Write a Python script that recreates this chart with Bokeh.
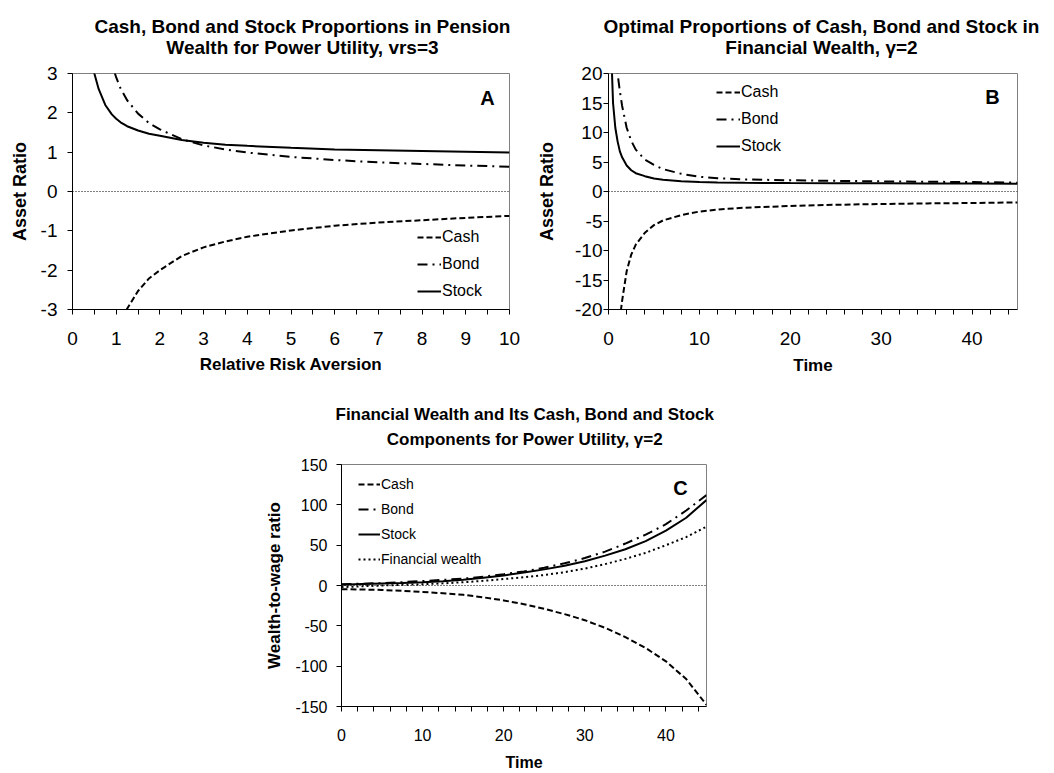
from bokeh.plotting import figure
from bokeh.layouts import column, row
from bokeh.models import Range1d, Legend, LegendItem, Label, Span, FixedTicker, Spacer
from bokeh.embed import file_html
from bokeh.resources import INLINE

FONT = "Liberation Sans"

# ---------------- Panel A data ----------------
gamma = [0.4, 0.5, 0.6, 0.75, 0.9, 1.0, 1.1, 1.25, 1.5, 1.75, 2.0, 2.5, 3.0, 3.5, 4.0,
         5.0, 6.0, 7.0, 8.0, 9.0, 10.0]
a_cash = [-10.7, -8.2, -6.6, -5.1, -4.2, -3.75, -3.38, -2.98, -2.53, -2.21, -2.0, -1.64,
          -1.42, -1.27, -1.15, -0.99, -0.87, -0.79, -0.73, -0.67, -0.62]
a_bond = [8.0, 6.2, 5.0, 3.9, 3.25, 2.9, 2.62, 2.32, 1.98, 1.74, 1.58, 1.33, 1.17, 1.07,
          0.99, 0.88, 0.80, 0.74, 0.70, 0.66, 0.63]
a_stock = [3.7, 3.0, 2.6, 2.2, 1.96, 1.85, 1.76, 1.66, 1.55, 1.47, 1.42, 1.31, 1.24, 1.19,
           1.16, 1.11, 1.07, 1.05, 1.03, 1.01, 0.99]
a_xticks = [0, 1, 2, 3, 4, 5, 6, 7, 8, 9, 10]
a_xminor = [0.5, 1.5, 2.5, 3.5, 4.5, 5.5, 6.5, 7.5, 8.5, 9.5]
a_yticks = [-3, -2, -1, 0, 1, 2, 3]
a_title = ["Cash, Bond and Stock Proportions in Pension", "Wealth for Power Utility, vrs=3"]

# ---------------- Panel B data ----------------
t_b = [0.1, 0.25, 0.5, 0.75, 1, 1.25, 1.5, 2, 2.5, 3, 4, 5, 6, 8, 10, 12, 15, 20, 25,
       30, 35, 40, 45]
b_cash = [-130, -85, -54, -37, -26, -21.5, -18.5, -13.5, -10.7, -9.0, -7.0, -5.7, -4.9,
          -4.0, -3.4, -3.05, -2.75, -2.45, -2.25, -2.12, -2.02, -1.95, -1.85]
b_bond = [90, 60, 40, 27, 20, 17, 14.5, 10.8, 8.6, 7.1, 5.4, 4.5, 3.8, 3.0, 2.5, 2.25,
          2.05, 1.9, 1.8, 1.72, 1.65, 1.6, 1.5]
b_stock = [45, 26, 15, 10.8, 8.5, 6.8, 5.8, 4.4, 3.6, 3.1, 2.6, 2.2, 2.0, 1.75, 1.6,
           1.52, 1.47, 1.42, 1.4, 1.38, 1.36, 1.34, 1.3]
b_xticks = [0, 10, 20, 30, 40]
b_xminor = [2, 4, 6, 8, 12, 14, 16, 18, 22, 24, 26, 28, 32, 34, 36, 38, 42, 44]
b_yticks = [-20, -15, -10, -5, 0, 5, 10, 15, 20]
b_title = ["Optimal Proportions of Cash, Bond and Stock in", "Financial Wealth, \u03b3=2"]

# ---------------- Panel C data ----------------
t_c = [0, 2.5, 5, 7.5, 10, 12.5, 15, 17.5, 20, 22.5, 25, 27.5, 30, 32.5, 35, 37.5, 40,
       42.5, 45]
c_cash = [-4.5, -5, -5.5, -6.6, -8, -9.6, -11.5, -14.7, -18.5, -23.2, -29, -35.5, -43,
          -52.5, -64, -77.5, -94, -116, -148]
c_bond = [1.5, 2.2, 3, 4.2, 5.5, 7, 8.5, 11, 14, 17.5, 22, 27.5, 34, 42, 52, 63, 76, 93,
          112]
c_stock = [1, 1.8, 2.5, 3.2, 4, 5.3, 7, 9.5, 12.5, 16, 20, 24.5, 30, 37, 45, 55, 68, 84,
           106]
c_fw = [-2, -1, 0, 0.8, 1.5, 2.7, 4, 5.8, 8, 10.3, 13, 16.5, 21, 26.5, 33, 40.5, 50, 60,
        73]
c_xticks = [0, 10, 20, 30, 40]
c_xminor = b_xminor
c_yticks = [-150, -100, -50, 0, 50, 100, 150]
c_title = ["Financial Wealth and Its Cash, Bond and Stock",
           "Components for Power Utility, \u03b3=2"]

CASH_DASH = "6 3"
BOND_DASH = "10 5 2 5"
FW_DASH = "2 3"


def make_fig(w, h, xr, yr, ml, mr, mt, mb, title_lines, tsize, tstand, tlh, toff):
    p = figure(width=w, height=h, x_range=Range1d(*xr), y_range=Range1d(*yr),
               output_backend="svg", toolbar_location=None,
               min_border_left=ml, min_border_right=mr, min_border_top=mt,
               min_border_bottom=mb, background_fill_color="white",
               border_fill_color="white", title="\n".join(title_lines))
    t = p.title
    if "text_align" in t.properties():
        # lines centred inside the block, block placed by a left offset
        t.text_align = "center"
        t.align = "left"
        t.offset = toff
    else:
        t.align = "center"
    t.vertical_align = "top"
    t.standoff = tstand
    t.text_font = FONT
    t.text_font_size = f"{tsize}px"
    t.text_font_style = "bold"
    t.text_color = "black"
    t.text_line_height = tlh
    p.grid.visible = False
    p.outline_line_color = "#808080"
    p.outline_line_width = 1
    return p


def style_axes(p, xlabel, ylabel, xticks, xminor, yticks, tick_size, xlab_size,
               ylab_size, x_mls, y_mls, x_als, y_als):
    xa = p.xaxis[0]
    ya = p.yaxis[0]
    xa.ticker = FixedTicker(ticks=xticks, minor_ticks=xminor)
    ya.ticker = FixedTicker(ticks=yticks, minor_ticks=[])
    xa.major_label_overrides = {v: str(v) for v in xticks}
    ya.major_label_overrides = {v: str(v) for v in yticks}
    for ax, lab, size, mls, als in ((xa, xlabel, xlab_size, x_mls, x_als),
                                    (ya, ylabel, ylab_size, y_mls, y_als)):
        ax.axis_label = lab
        ax.axis_label_text_font = FONT
        ax.axis_label_text_font_style = "bold"
        ax.axis_label_text_font_size = f"{size}px"
        ax.axis_label_text_color = "black"
        ax.axis_label_standoff = als
        ax.major_label_text_font = FONT
        ax.major_label_text_font_size = f"{tick_size}px"
        ax.major_label_text_color = "black"
        ax.major_label_standoff = mls
        ax.axis_line_color = "black"
        ax.axis_line_width = 1
        ax.major_tick_line_color = "black"
        ax.minor_tick_line_color = "black"
        ax.major_tick_out = 5
        ax.major_tick_in = 0
        ax.minor_tick_out = 5
        ax.minor_tick_in = 0


def add_letter(p, x, y, txt):
    p.add_layout(Label(x=x, y=y, x_units="screen", y_units="screen", text=txt,
                       text_font=FONT, text_font_size="20px", text_font_style="bold",
                       text_align="center", text_baseline="middle",
                       text_color="black"))


def add_series(p, x, cash, bond, stock, fw=None):
    r_cash = p.line(x, cash, line_color="black", line_width=2, line_dash=CASH_DASH)
    r_bond = p.line(x, bond, line_color="black", line_width=2, line_dash=BOND_DASH)
    r_stock = p.line(x, stock, line_color="black", line_width=2)
    items = [LegendItem(label="Cash", renderers=[r_cash]),
             LegendItem(label="Bond", renderers=[r_bond]),
             LegendItem(label="Stock", renderers=[r_stock])]
    if fw is not None:
        r_fw = p.line(x, fw, line_color="black", line_width=2, line_dash=FW_DASH)
        items.append(LegendItem(label="Financial wealth", renderers=[r_fw]))
    return items


def add_legend(p, items, loc, size, gw, spacing):
    leg = Legend(items=items, location=loc, label_text_font=FONT,
                 label_text_font_size=f"{size}px", label_text_color="black",
                 glyph_width=gw, glyph_height=20, label_height=20, label_standoff=1,
                 spacing=spacing, padding=0, margin=0, border_line_color=None,
                 background_fill_alpha=0)
    p.add_layout(leg, "center")


def zero_line(p):
    p.add_layout(Span(location=0, dimension="width", line_color="black",
                      line_width=1.2, line_dash="1 2"))


# ---------------- Panel A ----------------
pa = make_fig(530, 390, (0, 10), (-3, 3), 72, 21, 73, 81, a_title, 19, 27, 1.0, 22)
style_axes(pa, "Relative Risk Aversion", "Asset Ratio", a_xticks, a_xminor, a_yticks,
           19, 17, 18, 17, 10, 7, 8)
zero_line(pa)
items_a = add_series(pa, gamma, a_cash, a_bond, a_stock)
add_legend(pa, items_a, (345, 8), 16, 24, 7)
add_letter(pa, 415, 212, "A")

# ---------------- Panel B ----------------
pb = make_fig(510, 390, (0, 45), (-20, 20), 78, 23, 73, 79, b_title, 19, 27, 1.0, -5)
style_axes(pb, "Time", "Asset Ratio", b_xticks, b_xminor, b_yticks,
           19, 17, 18, 17, 1, 8, 15)
zero_line(pb)
items_b = add_series(pb, t_b, b_cash, b_bond, b_stock)
add_legend(pb, items_b, (108, 153), 16, 24, 7)
add_letter(pb, 384, 213, "B")

# ---------------- Panel C ----------------
pc = make_fig(478, 383, (0, 45), (-150, 150), 83, 30, 74, 67, c_title, 17, 27, 1.29, -6)
style_axes(pc, "Time", "Wealth-to-wage ratio", c_xticks, c_xminor, c_yticks,
           16, 16, 17, 17, 9, 10, 8)
zero_line(pc)
items_c = add_series(pc, t_c, c_cash, c_bond, c_stock, c_fw)
add_legend(pc, items_c, (17, 137), 14, 22, 5)
add_letter(pc, 339, 219, "C")

layout = column(row(pa, pb), row(Spacer(width=258, height=383), pc))

open("out.html", "w").write(file_html(layout, INLINE))
